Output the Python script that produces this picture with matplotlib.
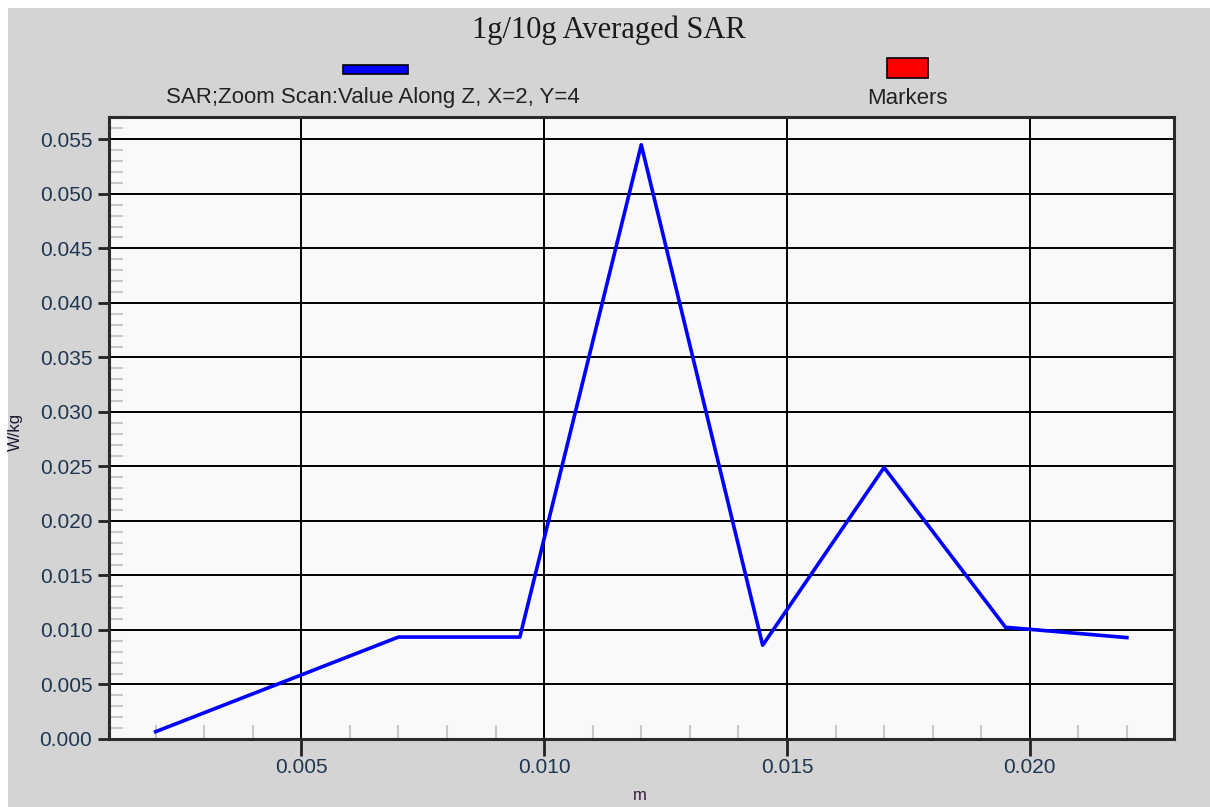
import numpy as np
import matplotlib.pyplot as plt
from matplotlib.patches import Rectangle
from matplotlib.ticker import MultipleLocator

# data
z_m = [0.002, 0.007, 0.0095, 0.012, 0.0145, 0.017, 0.0195, 0.022]
sar = [0.00067, 0.00935, 0.00935, 0.0545, 0.0086, 0.0249, 0.01025, 0.0093]
title = "1g/10g Averaged SAR"
series_label = "SAR;Zoom Scan:Value Along Z, X=2, Y=4"
marker_label = "Markers"

W, H = 1210, 807
plt.rcParams["font.family"] = ["Liberation Sans", "DejaVu Sans"]

fig = plt.figure(figsize=(W / 100, H / 100), dpi=100, facecolor="white")
# gray panel (white strip at top/left as in reference)
fig.add_artist(Rectangle((8 / W, 0), 1 - 8 / W, 1 - 8 / H, transform=fig.transFigure,
                         facecolor="#d4d4d4", edgecolor="none", zorder=-10))

ax = fig.add_axes([109 / W, 1 - 739 / H, (1174 - 109) / W, (739 - 117) / H])
ax.set_facecolor("#f9f9f9")
ax.plot(z_m, sar, color="#0000ff", linewidth=2.6, zorder=5)

ax.set_xlim(0.00104, 0.02297)
ax.set_ylim(0.0, 0.05705)
ax.xaxis.set_major_locator(MultipleLocator(0.005))
ax.yaxis.set_major_locator(MultipleLocator(0.005))
ax.xaxis.set_minor_locator(MultipleLocator(0.001))
ax.yaxis.set_minor_locator(MultipleLocator(0.001))
ax.xaxis.set_major_formatter(plt.FormatStrFormatter("%.3f"))
ax.yaxis.set_major_formatter(plt.FormatStrFormatter("%.3f"))
ax.set_xticks([0.005, 0.010, 0.015, 0.020])

ax.grid(True, which="major", color="black", linewidth=1.4, zorder=1)
ax.tick_params(which="major", direction="out", width=2.0, color="#222222",
               labelsize=15, labelcolor="#1f3550")
ax.tick_params(axis="y", which="major", length=8, pad=4)
ax.tick_params(axis="x", which="major", length=12, pad=2)
ax.tick_params(which="minor", direction="in", length=10, width=1.5, color="#c8c8c8")
for s in ax.spines.values():
    s.set_linewidth(2.2)
    s.set_color("#2a2a2a")

ax.set_xlabel("m", fontsize=12, color="#3a1a40")
ax.xaxis.set_label_coords(640 / W, 1 - 796 / H, transform=fig.transFigure)
ax.set_ylabel("W/kg", fontsize=12, va="center", color="#1a1a30")
ax.yaxis.set_label_coords(15 / W, 1 - 432 / H, transform=fig.transFigure)
ax.xaxis.label.set_va("center")

fig.text(609 / W, 1 - 30 / H, title, ha="center", va="center", fontsize=22,
         family="Liberation Serif", color="#1a1a1a")

# legend
fig.add_artist(Rectangle((343 / W, 1 - 74 / H), 65 / W, 9 / H, transform=fig.transFigure,
                         facecolor="#0000ff", edgecolor="black", linewidth=1.2))
fig.text(373 / W, 1 - 98 / H, series_label, ha="center", va="center", fontsize=16,
         color="#222222")
fig.add_artist(Rectangle((887 / W, 1 - 78 / H), 41 / W, 20 / H, transform=fig.transFigure,
                         facecolor="#ff0000", edgecolor="black", linewidth=1.2))
fig.text(907 / W, 1 - 98 / H, marker_label, ha="center", va="center", fontsize=16,
         color="#222222")

fig.savefig("out.png", dpi=100)
